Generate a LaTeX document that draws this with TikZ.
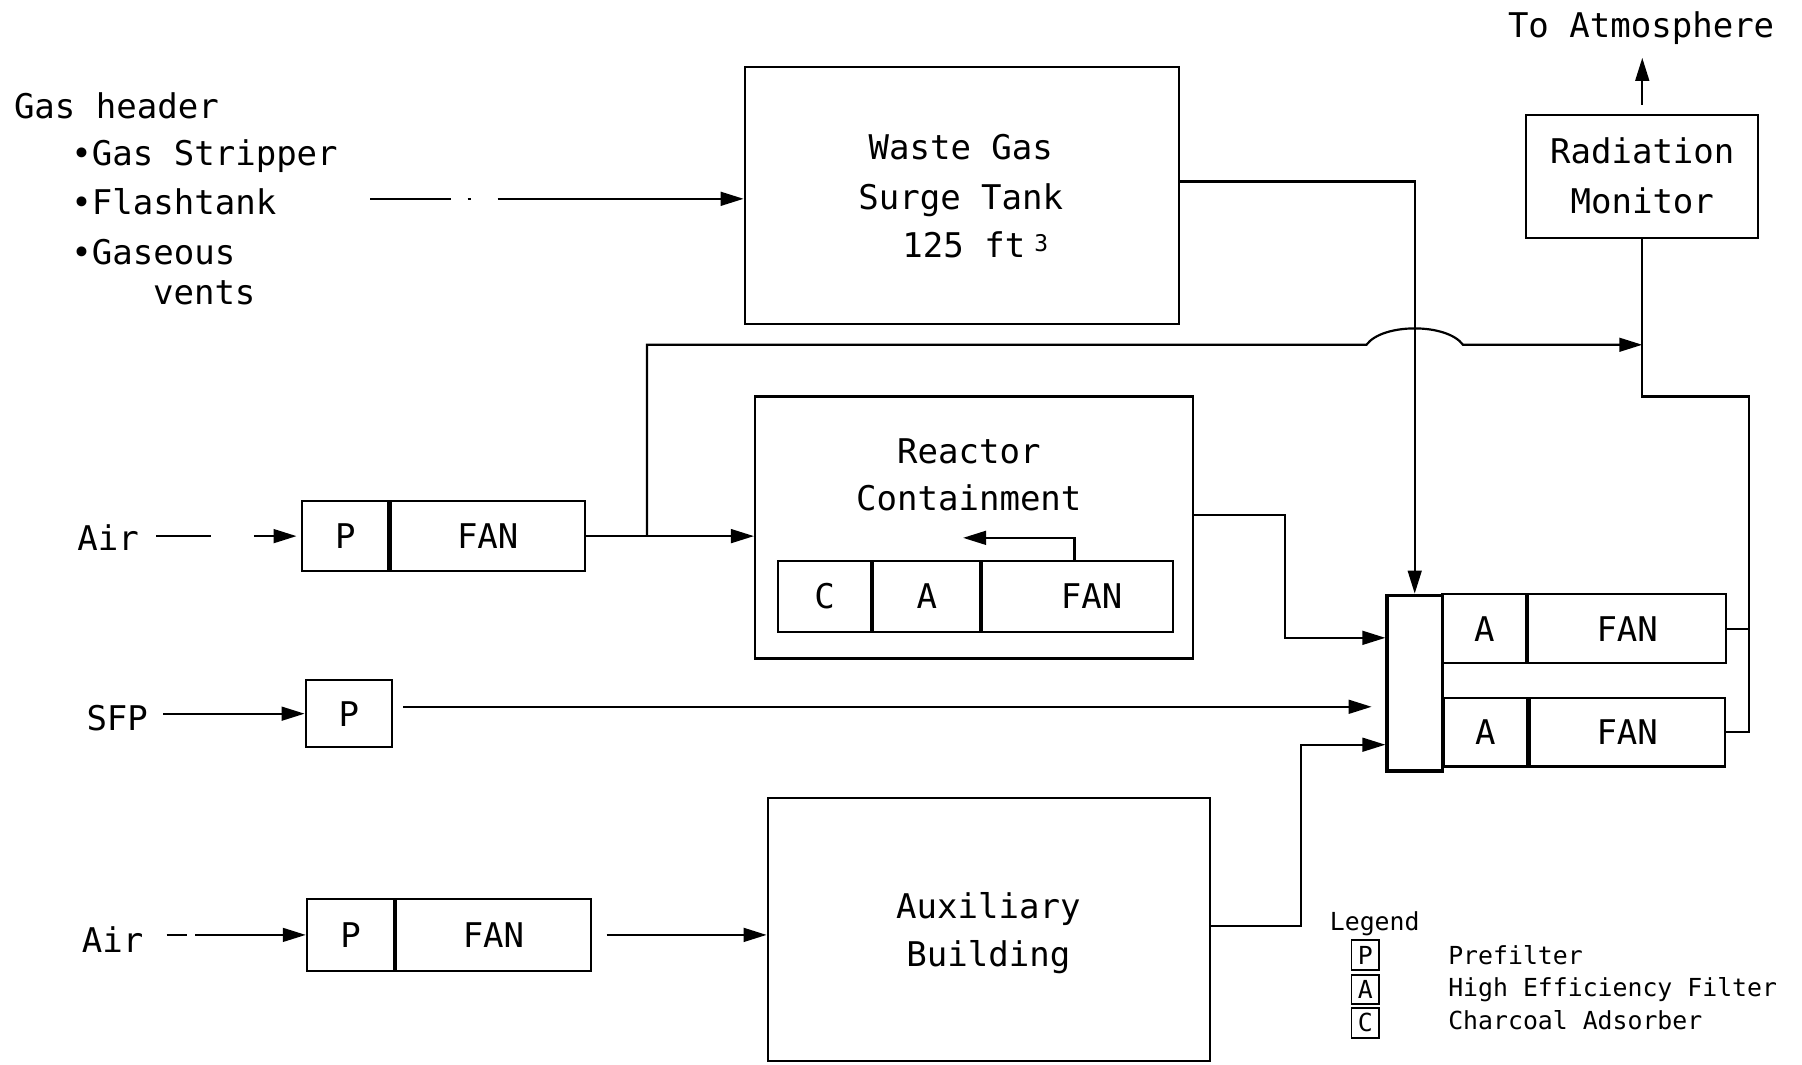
\documentclass[tikz,border=0pt]{standalone}
\usepackage{fontspec}
\setmainfont{DejaVu Sans Mono}
\usetikzlibrary{arrows.meta,calc}
\newcommand\MyBig{\fontsize{29.6}{36}\selectfont}
\newcommand\MyLeg{\fontsize{21.6}{26}\selectfont}
\begin{document}
\begin{tikzpicture}[x=1pt,y=-1pt,
  ln/.style={line width=1.9pt},
  flow/.style={line width=1.9pt,-{Triangle[length=20pt,width=12pt]}},
  box/.style={draw,line width=1.9pt,inner sep=0pt},
  cell/.style={box,font=\MyBig},
  txt/.style={inner sep=0pt,font=\MyBig,anchor=base},
  ltxt/.style={inner sep=0pt,font=\MyLeg,anchor=base west},
  lbox/.style={draw,line width=1.7pt,inner sep=0pt,minimum width=24pt,minimum height=26pt,font=\MyLeg},
]
\useasboundingbox (0,0) rectangle (1568,926);

% ---- gas header
\node[txt,anchor=base west] (gh) at (12,103) {Gas header};
\node[txt,anchor=base west] (gs) at (62,144) {•Gas Stripper};
\node[txt,anchor=base west] (gf) at (62,187) {•Flashtank};
\node[txt,anchor=base west] (gv) at (62,230) {•Gaseous};
\node[txt,anchor=base west] (gv2) at (133,265) {vents};

% ---- waste gas surge tank
\node[box,minimum width=378pt,minimum height=224pt] (wgt) at (837,170) {};
\node[txt] (wgt1) at (836,139) {Waste Gas};
\node[txt] (wgt2) at (836,182) {Surge Tank};
\node[txt,anchor=base west] (wgt3) at (785,224) {125 ft\hspace{8pt}\raisebox{5pt}{\fontsize{20}{20}\selectfont 3}};

\coordinate (gas0) at (322,173);
\draw[flow,dash pattern=on 70pt off 15pt on 3pt off 23pt on 600pt] (gas0) -- (gas0 -| wgt.west);

% ---- radiation monitor
\node[box,minimum width=202pt,minimum height=107pt] (rm) at (1429,153.5) {};
\node[txt] (rm1) at (1429,142) {Radiation};
\node[txt] (rm2) at (1429,186) {Monitor};
\node[txt] (atm) at (1428,33) {To Atmosphere};
\draw[flow,shorten >=11pt] ([yshift=8pt]rm.north) -- (rm.north |- atm.south);

% ---- reactor containment
\node[box,minimum width=381pt,minimum height=228pt] (rc) at (847.5,459) {};
\node[txt] (rc1) at (843,403) {Reactor};
\node[txt] (rc2) at (843,444) {Containment};
\node[cell,minimum width=81pt,minimum height=62pt] (rcc) at (717.5,519) {C};
\node[cell,anchor=west,minimum width=93pt,minimum height=62pt] (rca) at (rcc.east) {A};
\node[cell,anchor=west,minimum width=166pt,minimum height=62pt] (rcf) at (rca.east) {\hspace*{24pt}FAN};
\coordinate (rup) at (935,468);
\coordinate (rtip) at (838,468);
\draw[flow] (rup |- rcf.north) -- (rup) -- (rtip);

% ---- manifold and filter trains
\node[draw,line width=3pt,inner sep=0pt,minimum width=48pt,minimum height=153pt] (mani) at (1231,594.5) {};
\node[cell,minimum width=73pt,minimum height=60pt] (ha1) at (1291.5,547) {A};
\node[cell,anchor=west,minimum width=172pt,minimum height=60pt] (hf1) at (ha1.east) {FAN};
\node[cell,minimum width=73pt,minimum height=60pt] (ha2) at (1292.5,637) {A};
\node[cell,anchor=west,minimum width=170pt,minimum height=60pt] (hf2) at (ha2.east) {FAN};

\coordinate (ej) at (1522,345);
\draw[ln] (hf2.east) -- (hf2.east -| ej) -- (ej) -- (ej -| rm.south) -- (rm.south);
\draw[ln] (hf1.east) -- (hf1.east -| ej);

% waste gas to manifold
\coordinate (wy) at (0,158);
\draw[flow] (wgt.east |- wy) -| (mani.north);

% ---- air row 1
\node[txt] (air1) at (94,479) {Air};
\node[cell,minimum width=75pt,minimum height=61pt] (p1) at (300.5,466.5) {P};
\node[cell,anchor=west,minimum width=169pt,minimum height=61pt] (f1) at (p1.east) {FAN};
\draw[flow,dash pattern=on 48pt off 37pt on 300pt,shorten >=4pt] ([xshift=15pt]air1.east |- p1.west) -- (p1.west);
\draw[flow] (f1.east) -- (f1.east -| rc.west);

% purge line with hop
\coordinate (jx) at (563,300);
\draw[flow] (f1.east -| jx) -- (jx) -- ($(mani.north |- jx)+(-42,0)$)
   .. controls +(14,-19) and +(-14,-19) .. ($(mani.north |- jx)+(42,0)$) -- (rm.south |- jx);

% containment exhaust
\coordinate (rj1) at (1118,448);
\coordinate (rj2) at (1118,555);
\draw[flow] (rj1 -| rc.east) -- (rj1) -- (rj2) -- (rj2 -| mani.west);

% ---- SFP
\node[txt] (sfp) at (102,636) {SFP};
\node[cell,minimum width=75pt,minimum height=58pt] (sp) at (303.5,621) {P};
\draw[flow] ([xshift=13pt]sfp.east |- sp.west) -- (sp.west);
\coordinate (sy) at (0,615);
\draw[flow,shorten <=9pt,shorten >=12pt] (sp.east |- sy) -- (mani.west |- sy);

% ---- air row 2
\node[txt] (air2) at (98,829) {Air};
\node[cell,minimum width=76pt,minimum height=63pt] (p2) at (305,813.5) {P};
\node[cell,anchor=west,minimum width=169pt,minimum height=63pt] (f2) at (p2.east) {FAN};
\draw[flow,dash pattern=on 18pt off 7pt on 300pt] ([xshift=20pt]air2.east |- p2.west) -- (p2.west);

% ---- auxiliary building
\node[box,minimum width=385pt,minimum height=229pt] (ab) at (860.5,809) {};
\node[txt] (ab1) at (860,799) {Auxiliary};
\node[txt] (ab2) at (860,841) {Building};
\draw[flow,shorten <=13pt] (f2.east) -- (f2.east -| ab.west);
\coordinate (aj) at (1132,806);
\coordinate (aj2) at (1132,648);
\draw[flow] (aj -| ab.east) -- (aj) -- (aj2) -- (aj2 -| mani.west);

% ---- legend
\node[ltxt] (leg) at (1157,810) {Legend};
\node[lbox] (lp) at (1188,831) {P};
\node[ltxt] (lpt) at (1260,839) {Prefilter};
\node[lbox] (la) at (1188,861) {A};
\node[ltxt] (lat) at (1260,867) {High Efficiency Filter};
\node[lbox] (lc) at (1188,890) {C};
\node[ltxt] (lct) at (1260,896) {Charcoal Adsorber};
\end{tikzpicture}
\end{document}
